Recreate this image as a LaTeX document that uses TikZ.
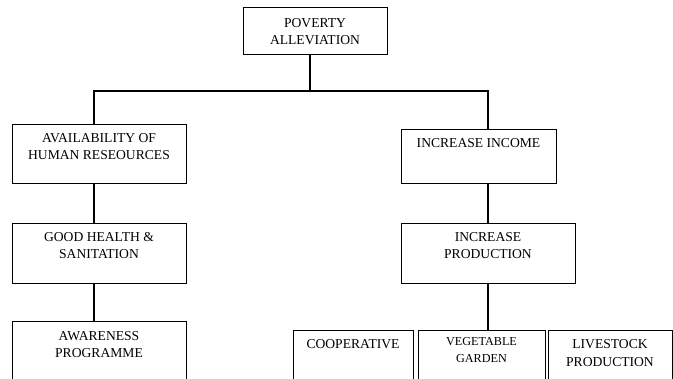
\documentclass[tikz,border=0pt]{standalone}
\usepackage{fontspec}
\setmainfont{Liberation Serif}
\usepackage{tikz}

\newcommand{\boxtxt}[4]{\parbox[t][#2pt][t]{#1pt}{\centering\rule{0pt}{#3pt}#4}}

\begin{document}
\begin{tikzpicture}[x=1pt,y=-1pt,
  box/.style={draw,line width=0.9pt,inner sep=0pt,anchor=north},
  conn/.style={line width=1.6pt},
  font=\fontsize{13.6}{17.5}\selectfont]
\useasboundingbox[fill=white] (0,0) rectangle (673,379);
\clip (0,0) rectangle (673,379);
\node[box] (pov) at (315,7) {\boxtxt{144}{47}{20}{POVERTY\\ALLEVIATION}};
\node[box] (avail) at (99,124) {\boxtxt{174}{59}{18}{AVAILABILITY OF\\HUMAN RESEOURCES}};
\node[box] (health) at (99,223) {\boxtxt{174}{60}{18}{GOOD HEALTH \&\\SANITATION}};
\node[box] (aware) at (99,321) {\boxtxt{174}{70}{19}{AWARENESS\\PROGRAMME}};
\node[box] (income) at (478.5,129) {\boxtxt{155}{54}{18}{INCREASE INCOME}};
\node[box] (prod) at (488,223) {\boxtxt{174}{60}{18}{INCREASE\\PRODUCTION}};
\node[box] (coop) at (353,330) {\boxtxt{120}{70}{18}{COOPERATIVE}};
\node[box,font=\fontsize{12.2}{17}\selectfont] (veg) at (481.5,330) {\boxtxt{127}{70}{15}{VEGETABLE\\GARDEN}};
\node[box,font=\fontsize{13.6}{18}\selectfont] (live) at (610,330) {\boxtxt{124}{70}{18}{LIVESTOCK\\PRODUCTION}};
\coordinate (bus) at (310,91);
\coordinate (lbus) at (94,91);
\coordinate (rbus) at (488,91);
% tree lines
\draw[conn] (pov.south -| bus) -- (bus);
\draw[conn] (avail.north -| lbus) -- (lbus) -- (rbus) -- (income.north -| rbus);
\draw[conn] (avail.south -| lbus) -- (health.north -| lbus);
\draw[conn] (health.south -| lbus) -- (aware.north -| lbus);
\draw[conn] (income.south -| rbus) -- (prod.north);
\draw[conn] (prod.south) -- (veg.north -| prod.south);
\end{tikzpicture}
\end{document}
